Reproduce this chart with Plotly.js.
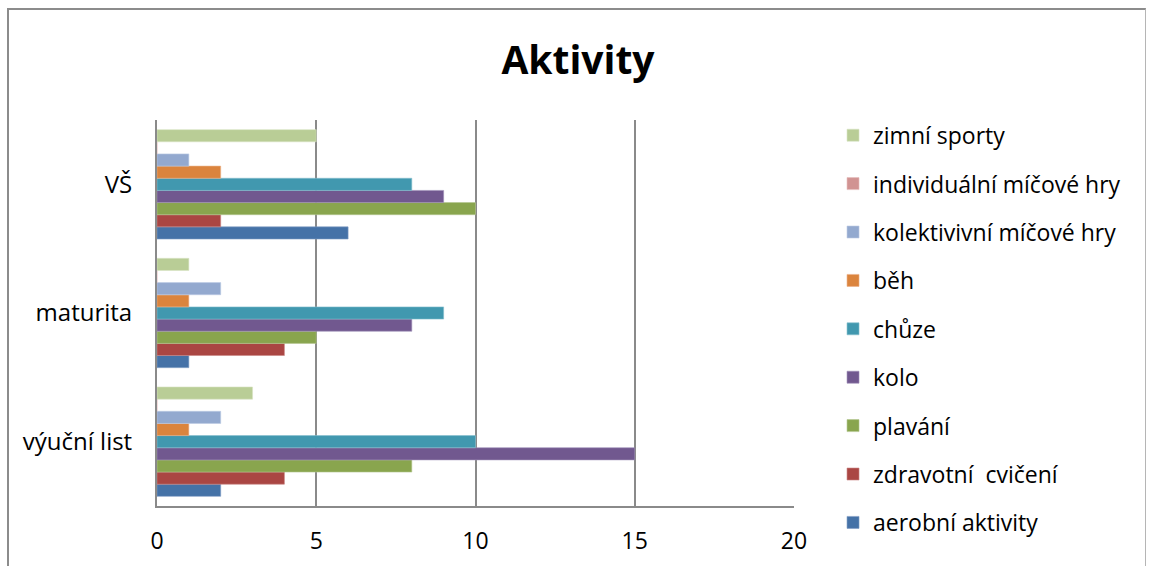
<!DOCTYPE html>
<html>
<head>
<meta charset="utf-8">
<script src="https://cdn.plot.ly/plotly-3.0.1.min.js"></script>
<style>
  html, body { margin: 0; padding: 0; background: #fff; }
  #wrap { position: relative; width: 1149px; height: 566px; overflow: hidden; }
  #chart { position: absolute; left: 0; top: 0; width: 1149px; height: 566px; }
  #frame { position: absolute; left: 7px; top: 8px; width: 1136px; height: 600px;
           border-left: 2px solid #8c8c8c; border-top: 2px solid #8c8c8c; border-right: 1px solid #b5b5b5;
           pointer-events: none; }
</style>
</head>
<body>
<div id="wrap">
  <div id="chart"></div>
  <div id="frame"></div>
</div>
<script>
const categories = ["výuční list", "maturita", "VŠ"];

const seriesNames = [
  "aerobní aktivity",
  "zdravotní  cvičení",
  "plavání",
  "kolo",
  "chůze",
  "běh",
  "kolektivivní míčové hry",
  "individuální míčové hry",
  "zimní sporty"
];

const aerobni      = [2, 1, 6];
const zdravotni    = [4, 4, 2];
const plavani      = [8, 5, 10];
const kolo         = [15, 8, 9];
const chuze        = [10, 9, 8];
const beh          = [1, 1, 2];
const kolektivni   = [2, 2, 1];
const individualni = [0, 0, 0];
const zimni        = [3, 1, 5];

const seriesValues = [aerobni, zdravotni, plavani, kolo, chuze, beh, kolektivni, individualni, zimni];

const colors = ["#4572A7", "#AA4643", "#89A54E", "#71588F", "#4198AF", "#DB843D", "#93A9CF", "#D19392", "#B9CD96"];
const outlines = ["#7f9cc4", "#c98684", "#b3c690", "#a090b8", "#86c0cf", "#ebb088", "#bccbe4", "#e6bdbd", "#d6e2c2"];

const xTicks = [0, 5, 10, 15, 20];

const traces = seriesNames.map((name, i) => ({
  type: "bar",
  orientation: "h",
  name: name,
  y: categories,
  x: seriesValues[i],
  legendgroup: "g" + i,
  legendrank: 100 - i,
  marker: { color: colors[i], line: { color: outlines[i], width: 0.6 } },
  hoverinfo: "x+name"
}));

const font = "'Open Sans', sans-serif";

const layout = {
  width: 1149,
  height: 566,
  margin: { l: 157, r: 355, t: 120, b: 60 },
  paper_bgcolor: "#ffffff",
  plot_bgcolor: "#ffffff",
  font: { family: font, color: "#000000", size: 23 },
  title: {
    text: "<b>Aktivity</b>",
    font: { family: font, size: 39, color: "#000000" },
    x: 0.503, xanchor: "center", xref: "container",
    y: 0.893, yanchor: "middle", yref: "container"
  },
  barmode: "group",
  bargap: 0.15,
  bargroupgap: 0,
  xaxis: {
    range: [0, 20],
    tickvals: xTicks,
    ticktext: xTicks.map(String),
    showgrid: true,
    gridcolor: "#8a8a8a",
    gridwidth: 2,
    showline: true,
    linecolor: "#8a8a8a",
    linewidth: 2,
    zeroline: false,
    ticks: "",
    ticklabelstandoff: 13,
    tickfont: { family: font, size: 23, color: "#000" },
    fixedrange: true
  },
  yaxis: {
    type: "category",
    categoryorder: "array",
    categoryarray: categories,
    showgrid: false,
    showline: true,
    linecolor: "#8a8a8a",
    linewidth: 2,
    zeroline: false,
    ticks: "",
    ticklabelstandoff: 18,
    tickfont: { family: font, size: 24, color: "#000" },
    fixedrange: true
  },
  legend: {
    traceorder: "grouped",
    tracegroupgap: 15.5,
    x: 0.725, xref: "container", xanchor: "left",
    y: 0.799, yref: "container", yanchor: "top",
    font: { family: font, size: 23, color: "#000" },
    itemwidth: 30,
    maxheight: 1000,
    bgcolor: "rgba(0,0,0,0)"
  },
  showlegend: true
};

Plotly.newPlot("chart", traces, layout, { displayModeBar: false, staticPlot: true });
</script>
</body>
</html>
